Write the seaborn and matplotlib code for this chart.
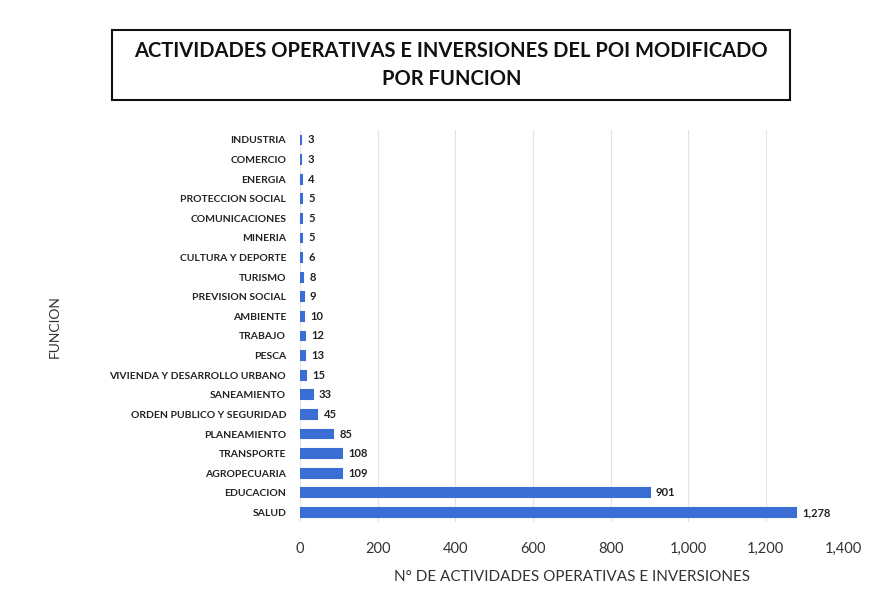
import numpy as np
import pandas as pd
import matplotlib
matplotlib.use("Agg")
import matplotlib.pyplot as plt
from matplotlib.patches import Rectangle
import seaborn as sns

# datos (de arriba hacia abajo)
funciones = ['INDUSTRIA', 'COMERCIO', 'ENERGIA', 'PROTECCION SOCIAL', 'COMUNICACIONES',
             'MINERIA', 'CULTURA Y DEPORTE', 'TURISMO', 'PREVISION SOCIAL', 'AMBIENTE',
             'TRABAJO', 'PESCA', 'VIVIENDA Y DESARROLLO URBANO', 'SANEAMIENTO',
             'ORDEN PUBLICO Y SEGURIDAD', 'PLANEAMIENTO', 'TRANSPORTE', 'AGROPECUARIA',
             'EDUCACION', 'SALUD']
actividades = [3, 3, 4, 5, 5, 5, 6, 8, 9, 10, 12, 13, 15, 33, 45, 85, 108, 109, 901, 1278]
x_ticks = [0, 200, 400, 600, 800, 1000, 1200, 1400]

df = pd.DataFrame({'funcion': funciones, 'n': actividades})

sns.set_theme(style='white')
plt.rcParams['font.family'] = ['Lato', 'DejaVu Sans']

fig = plt.figure(figsize=(8.85, 6.08), dpi=100)
ax = fig.add_axes([0.339, 0.141, 0.614, 0.645])

sns.barplot(data=df, x='n', y='funcion', orient='h', color='#3a6ed4',
            saturation=1, width=0.45, ax=ax, zorder=3,
            edgecolor='#3a6ed4', linewidth=1.5)

ax.set_xlim(0, 1400)
ax.set_xticks(x_ticks)
ax.set_xticklabels([f'{t:,}' for t in x_ticks], fontsize=10.5, color='#333333')
ax.tick_params(axis='x', length=0, pad=14)
ax.tick_params(axis='y', length=0, pad=10)
for lbl in ax.get_yticklabels():
    lbl.set_fontsize(7.5)
    lbl.set_fontweight('bold')
    lbl.set_color('#222222')

ax.grid(axis='x', color='#e4e4e4', linewidth=0.8, zorder=0)
for s in ax.spines.values():
    s.set_visible(False)

for i, v in enumerate(actividades):
    ax.text(v + 16, i, f'{v:,}', va='center', ha='left', fontsize=8,
            fontweight='bold', color='#222222')

ax.set_xlabel('N° DE ACTIVIDADES OPERATIVAS E INVERSIONES', fontsize=11,
              color='#333333', labelpad=10)
ax.set_ylabel('FUNCION', fontsize=10, color='#333333')
ax.yaxis.set_label_coords(-0.44, 0.5)

# recuadro del titulo
fig.patches.append(Rectangle((0.1266, 0.8355), 0.766, 0.115, transform=fig.transFigure,
                             facecolor='white', edgecolor='#111111', linewidth=1.5))
fig.text(0.51, 0.893, 'ACTIVIDADES OPERATIVAS E INVERSIONES DEL POI MODIFICADO\nPOR FUNCION',
         ha='center', va='center', fontsize=14.5, fontweight='bold', color='#111111',
         linespacing=1.45)

fig.savefig('out.png', dpi=100)
